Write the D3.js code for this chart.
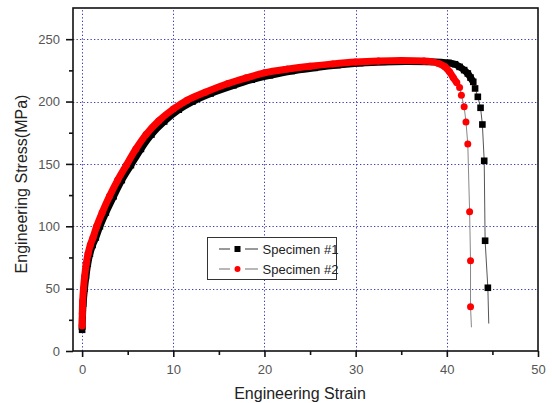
<!DOCTYPE html>
<html>
<head>
<meta charset="utf-8">
<script src="https://cdn.jsdelivr.net/npm/d3@7"></script>
<style>
  body { margin: 0; background: #fff; }
  svg { display: block; font-family: Arial, "Liberation Sans", sans-serif; }
</style>
</head>
<body>
<div id="chart"></div>
<script>
// Specimen #1 (black squares), part where the markers run together
const strain1 = [0, 0.04, 0.11, 0.26, 0.42, 0.62, 0.85, 1.15, 1.5, 1.95, 2.6, 3.45, 4.35, 5.35, 6.45, 7.6, 9.0, 10.6, 12.1, 14.1, 16.6, 18.6, 20.6, 23, 25.5, 28, 30.5, 33, 35.5, 38, 40.2, 40.9, 41.4, 41.9, 42.3, 42.6, 42.9];
const stress1 = [17, 28, 38, 50, 60, 70, 78, 85, 91, 100, 111, 124, 137, 149, 162, 173.5, 184, 193.5, 200, 206.5, 213, 217.5, 221, 224.5, 227, 229.2, 230.8, 231.8, 232.2, 231.9, 230.9, 229.9, 227.8, 225.2, 222.5, 219.2, 215.8];
// Specimen #1 after necking, last value is the break point (line only)
const tailStrain1 = [43.1, 43.4, 43.7, 43.9, 44.1, 44.2, 44.5, 44.6];
const tailStress1 = [210.5, 203.8, 195, 181.6, 152.5, 88.4, 50.7, 22];

// Specimen #2 (red circles)
const strain2 = [0, 0.02, 0.06, 0.15, 0.28, 0.45, 0.65, 0.9, 1.2, 1.6, 2.2, 3.0, 3.9, 4.85, 5.9, 7.0, 8.4, 10, 11.5, 13.5, 16, 18, 20, 22.5, 25, 27.5, 30, 32.5, 35, 37.5, 38.3, 39.1, 39.8, 40.3, 40.7, 41.1];
const stress2 = [20, 30, 40, 50, 60, 70, 78, 85, 91, 100, 111, 124, 137, 149, 162, 173.5, 184.5, 194, 201, 207.5, 214.5, 219, 223, 226, 228.3, 230.2, 231.7, 232.6, 233, 232.6, 232, 230.5, 227.8, 223.8, 219.2, 215];
const tailStrain2 = [41.4, 41.6, 41.9, 42.1, 42.3, 42.5, 42.6, 42.6, 42.7];
const tailStress2 = [211.3, 205, 195.8, 183.7, 165.9, 111.6, 72.3, 35.5, 19];

const seriesNames = ["Specimen #1", "Specimen #2"];
const xTicks = [0, 10, 20, 30, 40, 50];
const xMinor = [5, 15, 25, 35, 45];
const yTicks = [0, 50, 100, 150, 200, 250];
const yMinor = [25, 75, 125, 175, 225];

const width = 552;
const height = 403;
const margin = { top: 8, right: 14, bottom: 52, left: 73 };

const svg = d3
  .select("#chart")
  .append("svg")
  .attr("width", width)
  .attr("height", height);

const x = d3.scaleLinear().domain([-1, 50]).range([margin.left, width - margin.right]);
const y = d3.scaleLinear().domain([0, 275]).range([height - margin.bottom, margin.top]);

// dotted grid
const grid = svg.append("g")
  .attr("stroke", "#3b3bb5")
  .attr("stroke-width", 1)
  .attr("stroke-dasharray", "1.3,2.2");

grid.selectAll("line.gx")
  .data(xTicks.filter((d) => d < 50))
  .join("line")
  .attr("x1", (d) => Math.round(x(d)) + 0.5)
  .attr("x2", (d) => Math.round(x(d)) + 0.5)
  .attr("y1", y(0))
  .attr("y2", y(275));

grid.selectAll("line.gy")
  .data(yTicks.filter((d) => d > 0))
  .join("line")
  .attr("x1", x(-1))
  .attr("x2", x(50))
  .attr("y1", (d) => Math.round(y(d)) + 0.5)
  .attr("y2", (d) => Math.round(y(d)) + 0.5);

// axes
svg.append("g")
  .attr("transform", `translate(0,${y(0)})`)
  .call(d3.axisBottom(x).tickValues(xTicks).tickSize(6).tickPadding(8));
svg.append("g")
  .attr("transform", `translate(0,${y(0)})`)
  .call(d3.axisBottom(x).tickValues(xMinor).tickSize(4).tickFormat(""));

svg.append("g")
  .attr("transform", `translate(${x(-1)},0)`)
  .call(d3.axisLeft(y).tickValues(yTicks).tickSize(7).tickPadding(6));
svg.append("g")
  .attr("transform", `translate(${x(-1)},0)`)
  .call(d3.axisLeft(y).tickValues(yMinor).tickSize(4).tickFormat(""));

svg.selectAll(".domain").remove();
svg.selectAll(".tick line").attr("stroke", "#111").attr("stroke-width", 1.6);
svg.selectAll(".tick text")
  .attr("fill", "#555")
  .style("font-size", "13px")
  .style("font-family", "Arial, 'Liberation Sans', sans-serif");

// frame
svg.append("rect")
  .attr("x", x(-1))
  .attr("y", y(275))
  .attr("width", x(50) - x(-1))
  .attr("height", y(0) - y(275))
  .attr("fill", "none")
  .attr("stroke", "#111")
  .attr("stroke-width", 1.6);

// series
const series = [
  { name: seriesNames[0], strain: strain1, stress: stress1, tailStrain: tailStrain1, tailStress: tailStress1, color: "#000", line: "#555", shape: "square" },
  { name: seriesNames[1], strain: strain2, stress: stress2, tailStrain: tailStrain2, tailStress: tailStress2, color: "#ff0000", line: "#888", shape: "circle" },
];

const markSize = 7;

const drawMarker = (g, shape, color, cx, cy, size) => {
  if (shape === "square") {
    g.append("rect")
      .attr("x", cx - size / 2)
      .attr("y", cy - size / 2)
      .attr("width", size)
      .attr("height", size)
      .attr("fill", color);
  } else {
    g.append("circle")
      .attr("cx", cx)
      .attr("cy", cy)
      .attr("r", size / 2)
      .attr("fill", color);
  }
};

series.forEach((s) => {
  const dense = s.strain.map((v, i) => ({ e: v, s: s.stress[i] }));
  const tail = s.tailStrain.map((v, i) => ({ e: v, s: s.tailStress[i] }));
  const all = dense.concat(tail);
  const g = svg.append("g");

  // thin connecting line
  g.append("path")
    .datum(all)
    .attr("fill", "none")
    .attr("stroke", s.line)
    .attr("stroke-width", 1)
    .attr("d", d3.line().x((d) => x(d.e)).y((d) => y(d.s)));

  // where the points sit closer than a marker, they merge into a band
  g.append("path")
    .datum(dense)
    .attr("fill", "none")
    .attr("stroke", s.color)
    .attr("stroke-width", markSize)
    .attr("stroke-linejoin", "round")
    .attr("d", d3.line().x((d) => x(d.e)).y((d) => y(d.s)).curve(d3.curveCatmullRom));

  // markers, none on the break point
  dense.concat(tail.slice(0, -1)).forEach((d) => {
    drawMarker(g, s.shape, s.color, x(d.e), y(d.s), s.shape === "square" ? 6.6 : markSize);
  });
});

// legend
const legend = svg.append("g").attr("transform", "translate(207,237)");
legend.append("rect")
  .attr("x", 0.5)
  .attr("y", 0.5)
  .attr("width", 129)
  .attr("height", 42)
  .attr("fill", "#fff")
  .attr("stroke", "#333")
  .attr("stroke-width", 1);

series.forEach((s, i) => {
  const cy = 12 + i * 20;
  const row = legend.append("g");
  row.append("line").attr("x1", 12).attr("x2", 23).attr("y1", cy).attr("y2", cy).attr("stroke", s.line).attr("stroke-width", 1.2);
  row.append("line").attr("x1", 38).attr("x2", 51).attr("y1", cy).attr("y2", cy).attr("stroke", s.line).attr("stroke-width", 1.2);
  drawMarker(row, s.shape, s.color, 30.5, cy, 6);
  row.append("text")
    .attr("x", 55.5)
    .attr("y", cy + 4.7)
    .attr("fill", "#222")
    .style("font-size", "13px")
    .text(s.name);
});

// axis titles
svg.append("text")
  .attr("x", 300)
  .attr("y", 399)
  .attr("text-anchor", "middle")
  .attr("fill", "#222")
  .style("font-size", "16px")
  .text("Engineering Strain");

svg.append("text")
  .attr("transform", "translate(27,184) rotate(-90)")
  .attr("text-anchor", "middle")
  .attr("fill", "#222")
  .style("font-size", "16px")
  .text("Engineering Stress(MPa)");
</script>
</body>
</html>
